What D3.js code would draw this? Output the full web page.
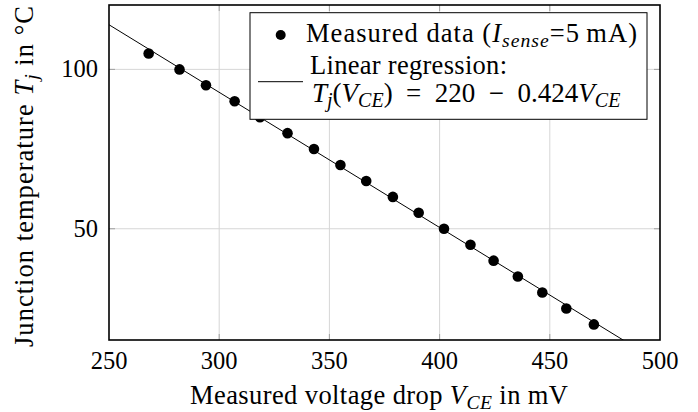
<!DOCTYPE html>
<html>
  <head>
    <meta charset="utf-8">
    <title>Junction temperature vs V_CE</title>
    <script src="https://cdnjs.cloudflare.com/ajax/libs/d3/7.8.5/d3.min.js"></script>
    <style>
      body { margin: 0; background: #fff; }
    </style>
  </head>
  <body>

    <script>
      // measured points (V_CE in mV, T_j in degC)
      var vce   = [268, 282, 294, 307, 318.5, 331, 343, 355, 366.7, 378.8, 390.5, 402, 414, 424.5, 435.5, 446.6, 457.5, 470];
      var tj    = [105, 100, 95, 90, 85, 80, 75, 70, 65, 60, 55, 50, 45, 40, 35, 30, 25, 20];
      // regression T = 220 - 0.424 V
      var regIntercept = 220, regSlope = -0.424;
      var xTicks = [250, 300, 350, 400, 450, 500];
      var yTicks = [50, 100];

      var W = 698, H = 412;
      var m = {left: 109, right: 38, top: 5, bottom: 72};
      var fs = 26.5, tfs = 24.5;
      var serif = "'Liberation Serif', 'Times New Roman', Times, 'DejaVu Serif', serif";

      var svg = d3.select("body").append("svg")
        .attr("width", W)
        .attr("height", H)
        .attr("font-family", serif);

      var x = d3.scaleLinear().domain([250, 500]).range([m.left, W - m.right]);
      var y = d3.scaleLinear().domain([15.1, 120.2]).range([H - m.bottom, m.top]);

      var x0 = x.range()[0], x1 = x.range()[1];
      var y0 = y.range()[0], y1 = y.range()[1];

      var defs = svg.append("defs");
      defs.append("clipPath").attr("id", "clip")
        .append("rect").attr("x", x0).attr("y", y1).attr("width", x1 - x0).attr("height", y0 - y1);

      // grid
      svg.append("g").selectAll("line").data(xTicks.slice(1, -1)).enter().append("line")
        .attr("x1", function (d){ return x(d); }).attr("x2", function (d){ return x(d); })
        .attr("y1", y0).attr("y2", y1)
        .attr("stroke", "#d6d6d6").attr("stroke-width", 1);
      svg.append("g").selectAll("line").data(yTicks).enter().append("line")
        .attr("y1", function (d){ return y(d); }).attr("y2", function (d){ return y(d); })
        .attr("x1", x0).attr("x2", x1)
        .attr("stroke", "#d6d6d6").attr("stroke-width", 1);

      // tick marks (inside, all four sides)
      var tl = 6, tickCol = "#a0a0a0";
      var tg = svg.append("g").attr("stroke", tickCol).attr("stroke-width", 1);
      xTicks.slice(1, -1).forEach(function (d){
        tg.append("line").attr("x1", x(d)).attr("x2", x(d)).attr("y1", y0).attr("y2", y0 - tl);
        tg.append("line").attr("x1", x(d)).attr("x2", x(d)).attr("y1", y1).attr("y2", y1 + tl);
      });
      yTicks.forEach(function (d){
        tg.append("line").attr("y1", y(d)).attr("y2", y(d)).attr("x1", x0).attr("x2", x0 + tl);
        tg.append("line").attr("y1", y(d)).attr("y2", y(d)).attr("x1", x1).attr("x2", x1 - tl);
      });

      // regression line
      var line = d3.line()
        .x(function (d){ return x(d); })
        .y(function (d){ return y(regIntercept + regSlope * d); });
      svg.append("path")
        .datum([250, 500])
        .attr("clip-path", "url(#clip)")
        .attr("d", line)
        .attr("fill", "none")
        .attr("stroke", "#000")
        .attr("stroke-width", 1);

      // measured points
      svg.append("g").selectAll("circle").data(vce).enter().append("circle")
        .attr("cx", function (d){ return x(d); })
        .attr("cy", function (d, i){ return y(tj[i]); })
        .attr("r", 5.3)
        .attr("fill", "#000");

      // frame
      svg.append("rect")
        .attr("x", x0).attr("y", y1).attr("width", x1 - x0).attr("height", y0 - y1)
        .attr("fill", "none").attr("stroke", "#000").attr("stroke-width", 1.6);

      // tick labels
      svg.append("g").selectAll("text").data(xTicks).enter().append("text")
        .attr("x", function (d){ return x(d); })
        .attr("y", y0 + 28.5)
        .attr("text-anchor", "middle")
        .attr("font-size", tfs)
        .text(function (d){ return d; });
      svg.append("g").selectAll("text").data(yTicks).enter().append("text")
        .attr("x", x0 - 11)
        .attr("y", function (d){ return y(d) + 8; })
        .attr("text-anchor", "end")
        .attr("font-size", tfs)
        .text(function (d){ return d; });

      // helper for math-ish text
      function addParts(t, parts, size){
        parts.forEach(function (p){
          var s = t.append("tspan").text(p.t);
          if (p.i) s.attr("font-style", "italic");
          if (p.sub) s.attr("font-size", size * 0.74).attr("dy", 5);
          if (p.up) s.attr("dy", -5);
        });
      }
      function label(g, xp, yp, len, parts, size){
        size = size || fs;
        var t = g.append("text").attr("x", xp).attr("y", yp).attr("font-size", size);
        if (len) t.attr("textLength", len).attr("lengthAdjust", "spacing");
        addParts(t, parts, size);
        return t;
      }

      // x label
      label(svg, 190, 404, 378,
        [{t: "Measured voltage drop "}, {t: "V", i: 1}, {t: "CE", i: 1, sub: 1}, {t: " in mV", up: 1}]);

      // y label
      label(svg, 0, 0, 341,
        [{t: "Junction temperature "}, {t: "T", i: 1}, {t: "j", i: 1, sub: 1}, {t: " in \u00b0C", up: 1}])
        .attr("transform", "translate(33,347) rotate(-90)");

      // legend
      var lg = svg.append("g");
      lg.append("rect")
        .attr("x", 250).attr("y", 12.7).attr("width", 397).attr("height", 106.6)
        .attr("fill", "#fff").attr("stroke", "#000").attr("stroke-width", 1);
      lg.append("circle").attr("cx", 280.7).attr("cy", 35).attr("r", 5).attr("fill", "#000");
      lg.append("line").attr("x1", 258).attr("x2", 303).attr("y1", 81.7).attr("y2", 81.7)
        .attr("stroke", "#000").attr("stroke-width", 1);

      label(lg, 306, 42, 331,
        [{t: "Measured data ("}, {t: "I", i: 1}, {t: "sense", i: 1, sub: 1}, {t: "=5\u2009mA)", up: 1}]);
      label(lg, 310, 74, 197, [{t: "Linear regression:"}]);
      label(lg, 312, 102, null,
        [{t: "T", i: 1}, {t: "j", i: 1, sub: 1}, {t: "(", up: 1}, {t: "V", i: 1}, {t: "CE", i: 1, sub: 1},
         {t: ")\u2002=\u2002220\u2002\u2212\u20020.424", up: 1}, {t: "V", i: 1}, {t: "CE", i: 1, sub: 1}], 27);
    </script>

  </body>
</html>
